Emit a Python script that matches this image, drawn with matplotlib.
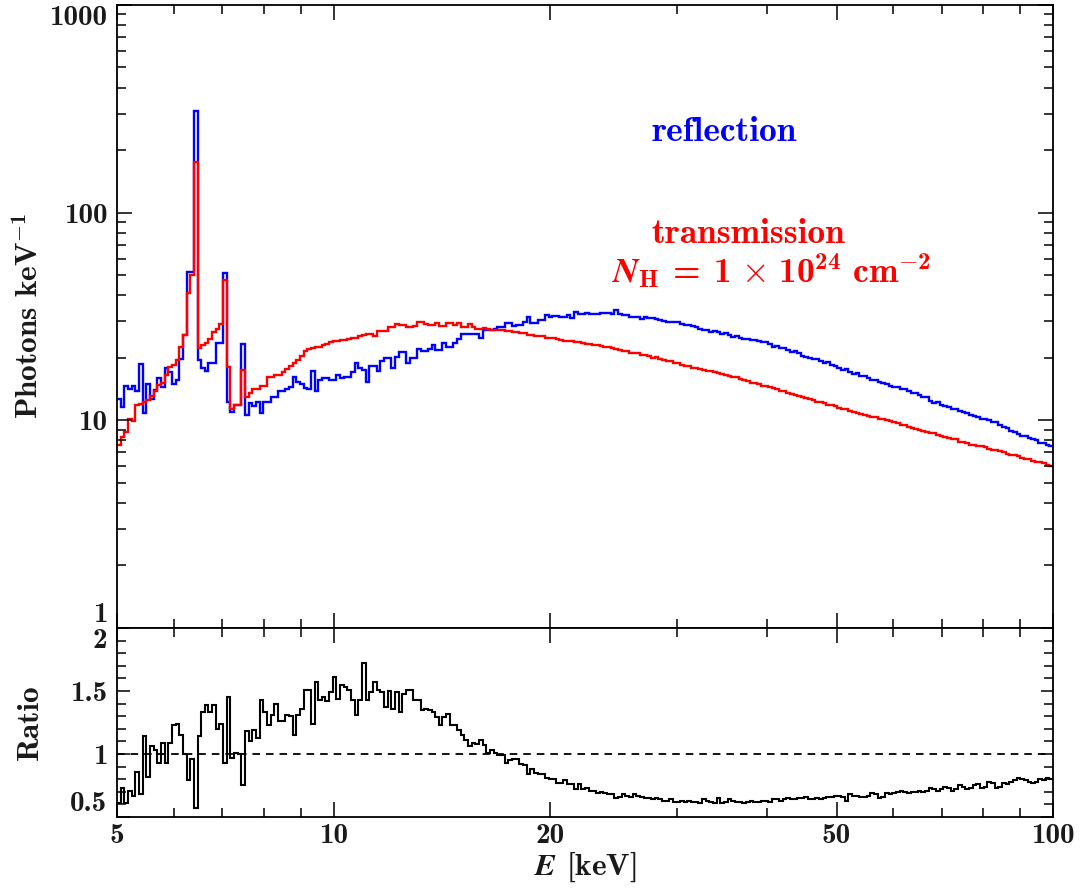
import numpy as np
import matplotlib
matplotlib.use("Agg")
import matplotlib.pyplot as plt
from matplotlib.ticker import FixedLocator, LogLocator, MultipleLocator, NullFormatter

# energy grid: log-spaced bins from 5 to 100 keV
e_min = 5.0
e_max = 100.0
n_bins = 256

# photons per keV, reflection spectrum (blue)
reflection = [
    12.6, 11.6, 14.7, 14.2, 14.7, 13.8, 18.6, 10.9, 14.9, 12.6,
    14.0, 15.9, 14.5, 17.9, 17.1, 15.0, 15.6, 19.8, 25.8, 52.0,
    52.0, 310.0, 19.6, 17.9, 17.2, 18.9, 18.9, 23.5, 23.5, 51.0,
    12.2, 11.0, 11.9, 11.9, 23.4, 10.6, 12.1, 11.7, 12.3, 10.8,
    12.3, 12.3, 13.0, 13.0, 13.8, 13.8, 14.1, 14.5, 16.1, 15.3,
    14.9, 14.3, 14.1, 17.2, 13.8, 15.6, 16.0, 16.0, 15.6, 15.6,
    16.5, 16.0, 16.1, 16.1, 17.1, 18.9, 17.9, 17.5, 15.3, 18.2,
    18.2, 17.2, 19.2, 20.0, 20.0, 17.9, 20.2, 21.3, 21.3, 18.8,
    20.0, 20.0, 22.1, 21.5, 21.5, 22.0, 23.0, 21.9, 21.9, 23.5,
    22.6, 22.6, 23.5, 24.7, 26.1, 26.1, 26.1, 26.1, 26.1, 24.9,
    27.3, 27.3, 27.3, 27.6, 28.1, 28.1, 29.4, 29.4, 28.4, 28.9,
    28.9, 29.9, 31.4, 29.4, 29.4, 30.5, 30.5, 32.1, 31.4, 31.8,
    31.8, 31.6, 31.6, 32.1, 31.2, 33.1, 32.5, 32.5, 32.8, 32.6,
    32.6, 32.6, 33.0, 33.0, 32.9, 32.6, 33.9, 32.5, 32.3, 32.0,
    31.4, 31.6, 31.6, 30.8, 31.4, 31.2, 31.2, 30.7, 30.5, 30.0,
    29.9, 29.9, 29.7, 29.7, 29.2, 28.8, 28.8, 28.4, 28.1, 27.6,
    27.3, 27.3, 26.7, 26.9, 26.5, 26.1, 26.3, 25.8, 25.3, 25.4,
    24.8, 24.6, 24.6, 24.3, 24.4, 24.0, 23.7, 23.8, 23.4, 22.6,
    22.7, 22.3, 22.2, 21.9, 21.4, 21.6, 21.0, 20.3, 20.2, 20.0,
    19.8, 19.7, 19.2, 18.9, 19.0, 18.4, 18.3, 17.9, 17.5, 17.6,
    17.1, 16.8, 16.9, 16.4, 16.3, 15.9, 15.6, 15.7, 15.3, 15.1,
    15.0, 14.6, 14.5, 14.4, 14.1, 14.1, 13.8, 13.6, 13.6, 13.2,
    13.0, 12.9, 12.4, 12.1, 12.2, 11.8, 11.7, 11.6, 11.3, 11.3,
    11.1, 11.0, 10.9, 10.6, 10.5, 10.4, 10.2, 10.2, 10.0, 9.8,
    9.8, 9.5, 9.3, 9.2, 8.9, 8.8, 8.6, 8.4, 8.4, 8.2,
    8.1, 8.0, 7.8, 7.8, 7.6, 7.5,
]

# photons per keV, transmission spectrum (red)
transmission = [
    7.6, 8.3, 8.8, 10.1, 9.9, 11.9, 12.0, 12.3, 12.5, 13.1,
    13.8, 14.8, 15.1, 16.5, 18.1, 18.5, 19.5, 22.6, 25.8, 41.0,
    50.0, 175.0, 22.3, 23.0, 23.5, 24.7, 26.5, 27.5, 29.0, 47.5,
    18.0, 11.3, 11.9, 11.9, 17.5, 13.0, 13.6, 14.1, 14.1, 14.7,
    14.7, 16.1, 16.1, 16.5, 16.5, 17.1, 17.6, 18.3, 18.9, 19.5,
    20.5, 21.5, 22.0, 22.3, 22.6, 22.6, 23.0, 23.2, 23.7, 24.0,
    24.0, 24.3, 24.3, 24.7, 25.0, 25.0, 25.5, 25.8, 26.1, 26.1,
    25.5, 26.9, 26.9, 26.9, 28.1, 28.1, 29.0, 28.8, 28.8, 28.1,
    28.1, 28.3, 29.6, 29.6, 29.1, 28.8, 28.8, 29.4, 28.4, 28.4,
    29.4, 29.4, 28.8, 29.4, 28.1, 28.1, 29.0, 28.1, 27.6, 27.6,
    27.9, 27.6, 27.3, 27.3, 27.3, 27.3, 27.0, 26.8, 26.6, 26.5,
    26.3, 26.3, 25.8, 25.8, 25.5, 25.5, 25.4, 25.0, 25.0, 24.8,
    24.6, 24.5, 24.2, 24.2, 24.0, 23.7, 23.7, 23.5, 23.3, 23.3,
    23.0, 23.0, 22.8, 22.6, 22.5, 22.2, 22.0, 21.9, 21.6, 21.5,
    21.2, 21.1, 21.0, 20.7, 20.7, 20.4, 20.0, 20.1, 19.8, 19.5,
    19.4, 19.2, 18.9, 18.9, 18.5, 18.3, 18.3, 17.9, 17.9, 17.6,
    17.5, 17.3, 17.2, 17.1, 16.9, 16.7, 16.6, 16.4, 16.1, 16.1,
    15.8, 15.6, 15.5, 15.2, 15.1, 15.0, 14.7, 14.6, 14.4, 14.3,
    14.1, 13.9, 13.8, 13.6, 13.4, 13.3, 13.1, 13.0, 12.8, 12.7,
    12.5, 12.3, 12.2, 12.1, 11.9, 11.8, 11.7, 11.5, 11.4, 11.3,
    11.1, 11.0, 10.8, 10.7, 10.6, 10.5, 10.4, 10.4, 10.2, 10.2,
    10.0, 9.9, 9.8, 9.7, 9.5, 9.5, 9.3, 9.2, 9.1, 9.0,
    8.9, 8.8, 8.7, 8.7, 8.5, 8.4, 8.3, 8.2, 8.1, 8.1,
    7.9, 7.9, 7.8, 7.6, 7.6, 7.5, 7.5, 7.4, 7.3, 7.2,
    7.2, 7.1, 7.0, 6.9, 6.8, 6.8, 6.7, 6.6, 6.5, 6.5,
    6.4, 6.3, 6.3, 6.2, 6.1, 6.0,
]

# transmission / reflection
ratio = [
    0.61, 0.73, 0.61, 0.71, 0.67, 0.86, 0.68, 1.14, 0.82, 1.06,
    1.03, 0.93, 1.09, 0.93, 1.09, 1.23, 1.24, 1.15, 1.00, 0.79,
    0.96, 0.57, 1.14, 1.33, 1.39, 1.33, 1.39, 1.20, 1.24, 0.93,
    1.45, 0.97, 1.01, 1.00, 0.75, 1.18, 1.10, 1.19, 1.13, 1.43,
    1.33, 1.23, 1.31, 1.40, 1.26, 1.26, 1.31, 1.30, 1.15, 1.31,
    1.36, 1.51, 1.51, 1.24, 1.57, 1.43, 1.45, 1.42, 1.49, 1.61,
    1.44, 1.55, 1.53, 1.51, 1.43, 1.31, 1.43, 1.72, 1.43, 1.49,
    1.57, 1.51, 1.49, 1.37, 1.50, 1.36, 1.49, 1.33, 1.48, 1.51,
    1.51, 1.43, 1.43, 1.35, 1.36, 1.35, 1.33, 1.29, 1.23, 1.29,
    1.32, 1.23, 1.23, 1.19, 1.15, 1.11, 1.06, 1.09, 1.08, 1.11,
    1.07, 1.01, 1.03, 1.01, 0.99, 0.99, 0.93, 0.95, 0.96, 0.96,
    0.92, 0.91, 0.84, 0.88, 0.85, 0.84, 0.84, 0.81, 0.80, 0.80,
    0.77, 0.77, 0.79, 0.76, 0.76, 0.72, 0.76, 0.72, 0.73, 0.71,
    0.71, 0.69, 0.70, 0.69, 0.68, 0.68, 0.65, 0.66, 0.68, 0.67,
    0.66, 0.68, 0.67, 0.66, 0.65, 0.65, 0.64, 0.65, 0.64, 0.63,
    0.63, 0.64, 0.62, 0.62, 0.63, 0.62, 0.63, 0.62, 0.62, 0.61,
    0.64, 0.63, 0.62, 0.61, 0.65, 0.61, 0.62, 0.64, 0.63, 0.62,
    0.62, 0.61, 0.62, 0.63, 0.62, 0.62, 0.63, 0.63, 0.62, 0.64,
    0.64, 0.63, 0.64, 0.65, 0.64, 0.64, 0.65, 0.65, 0.66, 0.64,
    0.64, 0.65, 0.64, 0.65, 0.66, 0.66, 0.67, 0.67, 0.66, 0.63,
    0.68, 0.67, 0.67, 0.66, 0.66, 0.67, 0.69, 0.68, 0.65, 0.66,
    0.69, 0.68, 0.69, 0.70, 0.71, 0.70, 0.69, 0.70, 0.70, 0.71,
    0.70, 0.71, 0.73, 0.72, 0.71, 0.72, 0.74, 0.73, 0.71, 0.72,
    0.75, 0.74, 0.72, 0.73, 0.75, 0.76, 0.73, 0.74, 0.78, 0.77,
    0.73, 0.74, 0.77, 0.76, 0.78, 0.79, 0.81, 0.80, 0.79, 0.78,
    0.77, 0.78, 0.80, 0.79, 0.81, 0.80,
]

x_ticks = [5, 10, 20, 50, 100]
top_y_ticks = [1, 10, 100, 1000]
ratio_y_ticks = [0.5, 1, 1.5, 2]

plt.rcParams['font.family'] = 'cmb10'
plt.rcParams['mathtext.fontset'] = 'custom'
plt.rcParams['mathtext.rm'] = 'cmb10'
plt.rcParams['mathtext.bf'] = 'cmb10'
plt.rcParams['mathtext.it'] = 'STIXGeneral:italic:bold'
plt.rcParams['axes.linewidth'] = 1.3

edges = np.geomspace(e_min, e_max, n_bins + 1)
txt_col = '#1a1a1a'
tick_fs = 21
label_fs = 22.5
note_fs = 25.5

fig = plt.figure(figsize=(10.84, 8.88), dpi=100)
ax1 = fig.add_axes([0.108, 0.2928, 0.8635, 0.7016])
ax2 = fig.add_axes([0.108, 0.0800, 0.8635, 0.2128], sharex=ax1)

# spectra
ax1.stairs(reflection, edges, baseline=None, color='#0000ff', lw=1.7)
ax1.stairs(transmission, edges, baseline=None, color='#ff0000', lw=1.7)
ax1.set_xscale('log')
ax1.set_yscale('log')
ax1.set_xlim(e_min, e_max)
ax1.set_ylim(1, 1000)

# ratio
ax2.stairs(ratio, edges, baseline=None, color='black', lw=1.5)
ax2.axhline(1.0, color='black', lw=1.3, ls=(0, (4.2, 3.3)))
ax2.set_ylim(0.5, 2.0)

for ax in (ax1, ax2):
    ax.xaxis.set_major_locator(FixedLocator(x_ticks))
    ax.xaxis.set_minor_locator(LogLocator(base=10, subs=np.arange(2, 10)))
    ax.xaxis.set_minor_formatter(NullFormatter())
    ax.tick_params(which='both', direction='in', top=True, right=True,
                   width=1.1, labelsize=tick_fs, colors='black', labelcolor=txt_col)
    ax.tick_params(which='major', length=11)
    ax.tick_params(which='minor', length=6.5)
    ax.tick_params(axis='y', pad=7)

ax1.set_yticks(top_y_ticks, labels=['1', '10', '100', '1000'])
ax1.yaxis.set_minor_locator(LogLocator(base=10, subs=np.arange(2, 10)))
ax1.yaxis.set_minor_formatter(NullFormatter())
ax1.tick_params(axis='x', labelbottom=False)

ax2.set_yticks(ratio_y_ticks, labels=['0.5', '1', '1.5', '2'])
ax2.yaxis.set_minor_locator(MultipleLocator(0.1))
ax2.tick_params(axis='y', which='major', length=9)
ax2.set_xticks(x_ticks, labels=[str(v) for v in x_ticks])
ax2.tick_params(axis='x', pad=4)

# keep edge labels inside their panels
for lab in ax1.get_yticklabels():
    if lab.get_text() == '1000':
        lab.set_va('top')
    elif lab.get_text() == '1':
        lab.set_va('bottom')
for lab in ax2.get_yticklabels():
    if lab.get_text() == '2':
        lab.set_va('top')
    elif lab.get_text() == '0.5':
        lab.set_va('bottom')

ax1.set_ylabel(r'Photons keV$^{-1}$', fontsize=label_fs, color=txt_col)
ax1.yaxis.set_label_coords(-0.078, 0.5)
ax2.set_ylabel('Ratio', fontsize=label_fs, color=txt_col)
ax2.yaxis.set_label_coords(-0.078, 0.5)
ax2.set_xlabel(r'$E$ [keV]', fontsize=label_fs, color=txt_col)
ax2.xaxis.set_label_coords(0.5, -0.17)

ax1.text(0.5713, 0.7822, 'reflection', color='#0000ff', fontsize=note_fs,
         transform=ax1.transAxes, ha='left', va='baseline')
ax1.text(0.5713, 0.6185, 'transmission', color='#ff0000', fontsize=note_fs,
         transform=ax1.transAxes, ha='left', va='baseline')
ax1.text(0.5285, 0.5533,
         r'$N_{\mathbf{H}}\;=\;1\,\times\,10^{24}$ cm$^{-2}$',
         color='#ff0000', fontsize=note_fs, transform=ax1.transAxes,
         ha='left', va='baseline')

fig.savefig('out.png', dpi=100)
